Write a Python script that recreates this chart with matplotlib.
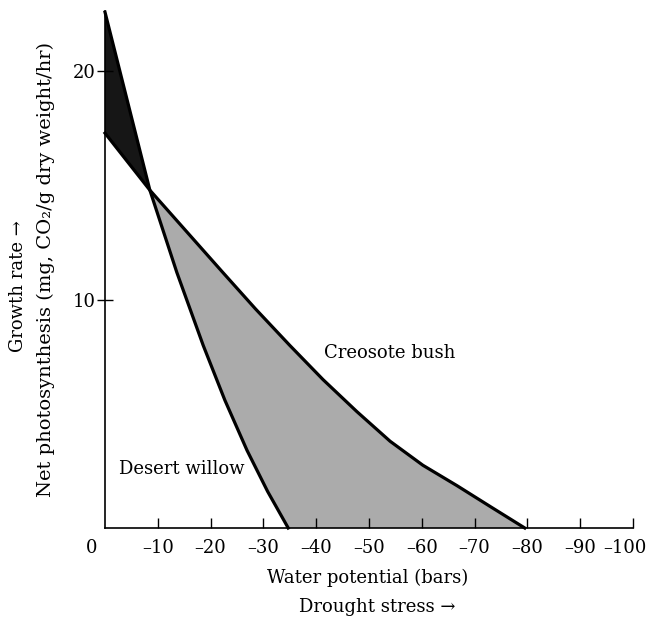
import matplotlib
matplotlib.use("Agg")
import matplotlib.pyplot as plt
import numpy as np

plt.rcParams['font.family'] = ['DejaVu Serif']

# Net photosynthesis vs. water potential
willow_x = [0, -8.5, -13.6, -18.6, -22.7, -26.9, -30.8, -34.7]
willow_y = [22.6, 14.8, 11.2, 8.0, 5.6, 3.4, 1.6, 0.0]

creosote_x = [0, -8.5, -22.3, -28.5, -35.0, -41.3, -47.7, -54.0, -60.2, -66.7, -72.9, -79.5]
creosote_y = [17.3, 14.8, 11.2, 9.6, 8.0, 6.5, 5.1, 3.8, 2.75, 1.85, 0.95, 0.0]

x_ticks = [-10, -20, -30, -40, -50, -60, -70, -80, -90, -100]
x_tick_labels = ['–10', '–20', '–30', '–40', '–50', '–60', '–70', '–80', '–90', '–100']
y_ticks = [10, 20]
y_tick_labels = ['10', '20']

W, H = 649, 621
fig = plt.figure(figsize=(W / 100, H / 100), dpi=100)
ax = fig.add_axes([105 / W, (H - 528) / H, 528 / W, 517 / H])
ax.set_xlim(0, -100)
ax.set_ylim(0, 22.65)

# crossing point shared by both curves
cross = 1  # index of the crossing in each series
wx, wy = np.array(willow_x), np.array(willow_y)
cx, cy = np.array(creosote_x), np.array(creosote_y)

# willow ahead: dark wedge between the curves up to the crossing
dark_x = np.concatenate([wx[:cross + 1], cx[:cross + 1][::-1]])
dark_y = np.concatenate([wy[:cross + 1], cy[:cross + 1][::-1]])
ax.fill(dark_x, dark_y, color='#161616', lw=0, zorder=1)

# creosote ahead: grey region between the curves beyond the crossing
light_x = np.concatenate([cx[cross:], wx[cross:][::-1]])
light_y = np.concatenate([cy[cross:], wy[cross:][::-1]])
ax.fill(light_x, light_y, color='#ababab', lw=0, zorder=1)

ax.plot(wx, wy, color='black', lw=2.3, solid_joinstyle='round', zorder=3, clip_on=False)
ax.plot(cx, cy, color='black', lw=2.3, solid_joinstyle='round', zorder=3, clip_on=False)

for s in ['top', 'right']:
    ax.spines[s].set_visible(False)
for s in ['left', 'bottom']:
    ax.spines[s].set_linewidth(1.2)
    ax.spines[s].set_zorder(4)

# last x label is placed by hand so it stays inside the figure
ax.set_xticks(x_ticks)
ax.set_xticklabels(x_tick_labels[:-1] + [''])
ax.set_yticks(y_ticks)
ax.set_yticklabels(y_tick_labels)
ax.tick_params(axis='x', direction='in', length=7, width=1.0, pad=8, labelsize=13)
ax.tick_params(axis='y', direction='inout', length=12, width=1.0, pad=0.5, labelsize=13)

ax.annotate(x_tick_labels[-1], xy=(x_ticks[-1], 0), xycoords='data', xytext=(-8, -20),
            textcoords='offset pixels', ha='center', va='center', fontsize=13,
            annotation_clip=False)

# shared origin label
ax.annotate('0', xy=(0, 0), xycoords='data', xytext=(-13, -20), textcoords='offset pixels',
            ha='center', va='center', fontsize=13, annotation_clip=False)

ax.text(-54, 7.65, 'Creosote bush', fontsize=13, ha='center', va='center')
ax.text(-14.5, 2.6, 'Desert willow', fontsize=13, ha='center', va='center')

fig.text(368 / W, 1 - 578 / H, 'Water potential (bars)', fontsize=13, ha='center', va='center')
fig.text(377 / W, 1 - 607 / H, 'Drought stress \u2192', fontsize=13, ha='center', va='center')
fig.text(46 / W, 1 - 270 / H, 'Net photosynthesis (mg, CO\u2082/g dry weight/hr)', fontsize=14,
         rotation=90, ha='center', va='center')
fig.text(18 / W, 1 - 286 / H, 'Growth rate \u2192', fontsize=13, rotation=90, ha='center', va='center')

fig.savefig('out.png', dpi=100)
